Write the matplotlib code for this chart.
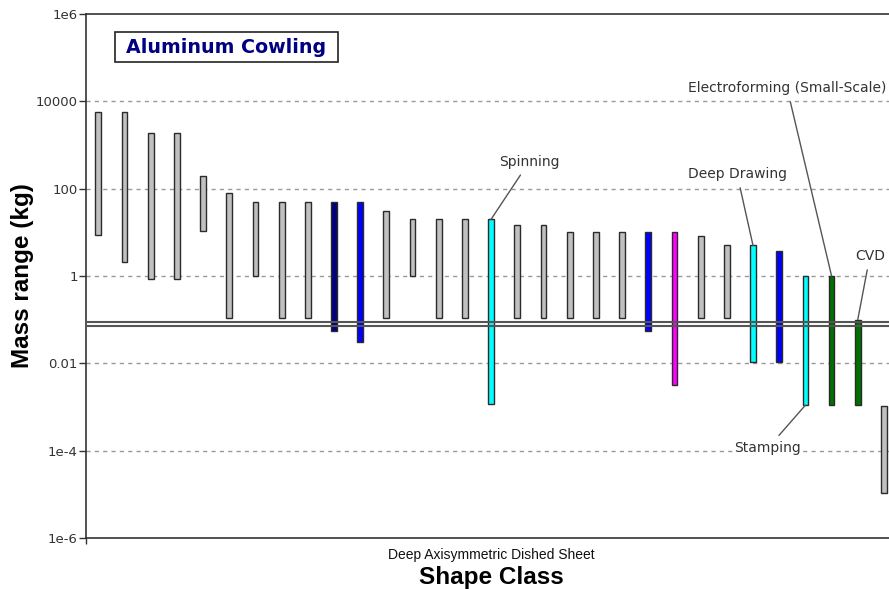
import matplotlib
matplotlib.use('Agg')
import matplotlib.pyplot as plt
from matplotlib.patches import Rectangle
import numpy as np

# mass range of each process bar (kg), left to right
mass_low = [8.5, 2.1, 0.87, 0.87, 10.6, 0.11, 1.0, 0.11, 0.11, 0.056, 0.031,
            0.11, 1.0, 0.11, 0.11, 0.0012, 0.11, 0.11, 0.11, 0.11, 0.11, 0.055,
            0.0032, 0.11, 0.11, 0.011, 0.011, 0.0011, 0.0011, 0.0011, 1.1e-5]
mass_high = [5700, 5700, 1870, 1870, 192, 78, 49, 49, 49, 49, 49,
             30, 20, 20, 20, 20, 15, 15, 10, 10, 10, 10,
             10, 8.1, 5, 5, 3.7, 1.0, 1.0, 0.1, 0.00107]
bar_colors = ['#c0c0c0'] * 9 + ['#000080', '#0000ff'] + ['#c0c0c0'] * 4 + ['#00ffff'] \
    + ['#c0c0c0'] * 5 + ['#0000ff', '#ff00ff', '#c0c0c0', '#c0c0c0', '#00ffff', '#0000ff',
                         '#00ffff', '#007000', '#007000', '#c0c0c0']

# selected mass window (kg)
target_low = 0.073
target_high = 0.088

# labelled processes: (bar index, label, text position in data coords, alignment)
labels = [
    (15, 'Spinning', (16.45, 408), 'center'),
    (25, 'Deep Drawing', (24.39, 217), 'center'),
    (28, 'Electroforming (Small-Scale)', (26.3, 20200), 'center'),
    (29, 'CVD', (28.89, 2.87), 'left'),
    (27, 'Stamping', (25.57, 1.15e-4), 'center'),
]

fig = plt.figure(figsize=(8.89, 5.89), dpi=100)
ax = fig.add_axes([86 / 889, 51 / 589, 810 / 889, 524 / 589])

x = np.arange(len(mass_low))
lo = np.array(mass_low)
hi = np.array(mass_high)
ax.bar(x, hi - lo, bottom=lo, width=0.22, color=bar_colors,
       edgecolor='#2a2a2a', linewidth=1.0, zorder=3)

ax.set_yscale('log')
ax.set_ylim(1e-6, 1e6)
ax.set_xlim(-0.47, 30.46)

yt = [1e-6, 1e-4, 1e-2, 1, 100, 1e4, 1e6]
ax.set_yticks(yt)
ax.set_yticklabels(['1e-6', '1e-4', '0.01', '1', '100', '10000', '1e6'],
                   fontsize=9.5, family='DejaVu Sans', color='#333333')
ax.yaxis.set_minor_locator(matplotlib.ticker.NullLocator())
ax.tick_params(axis='y', length=5, width=1, pad=1, color='#333333')
for v in yt[1:-1]:
    ax.axhline(v, color='#999999', linestyle=(0, (3, 3)), linewidth=1, zorder=1)

ax.set_xticks([-0.47])
ax.set_xticklabels([''])
ax.tick_params(axis='x', length=4, width=1, color='#333333')

for side in ['top', 'left', 'bottom']:
    ax.spines[side].set_color('#333333')
    ax.spines[side].set_linewidth(1.2)
ax.spines['right'].set_visible(False)

ax.axhline(target_low, color='#555555', linewidth=1.5, zorder=4)
ax.axhline(target_high, color='#555555', linewidth=1.5, zorder=4)

ax.text(0.5, -0.032, 'Deep Axisymmetric Dished Sheet', transform=ax.transAxes,
        ha='center', va='center', fontsize=10, family='Liberation Sans', color='#111111')
ax.text(0.5, -0.075, 'Shape Class', transform=ax.transAxes, ha='center', va='center',
        fontsize=17.5, fontweight='bold', family='Liberation Sans')
fig.text(23 / 889, 0.5 + (589 / 2 - 276) / 589, 'Mass range (kg)', rotation=90,
         ha='center', va='center', fontsize=17.5, fontweight='bold', family='Liberation Sans')

# title box
ax.add_patch(Rectangle((0.0358, 0.9084), 0.2753, 0.0573, transform=ax.transAxes,
                       facecolor='white', edgecolor='#222222', linewidth=1.2, zorder=6))
ax.text(0.1735, 0.937, 'Aluminum Cowling', transform=ax.transAxes, ha='center', va='center',
        fontsize=13.7, fontweight='bold', color='#000080', family='DejaVu Sans', zorder=7)

for idx, name, (tx, ty), align in labels:
    tip = mass_low[idx] if name == 'Stamping' else mass_high[idx]
    ax.annotate(name, xy=(idx, tip), xytext=(tx, ty), fontsize=10, color='#333333',
                family='DejaVu Sans', ha=align, va='center', zorder=5,
                arrowprops=dict(arrowstyle='-', color='#555555', linewidth=1, shrinkA=4, shrinkB=0),
                bbox=dict(boxstyle='square,pad=0.1', facecolor='white', edgecolor='none'))

fig.savefig('out.png', dpi=100)
